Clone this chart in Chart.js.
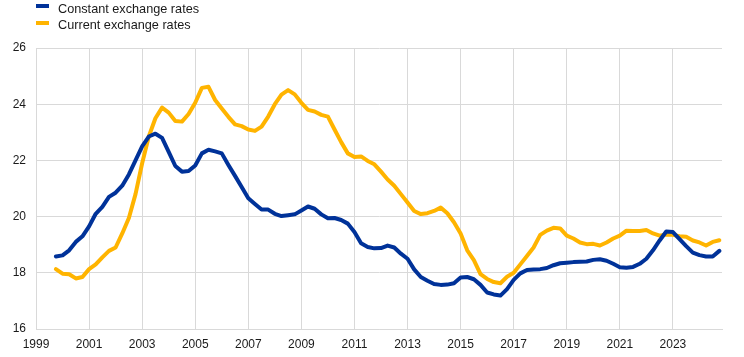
<!DOCTYPE html>
<html>
<head>
<meta charset="utf-8">
<script src="https://cdn.jsdelivr.net/npm/chart.js@4/dist/chart.umd.min.js"></script>
<style>
  html, body { margin: 0; padding: 0; background: #fff; }
  #wrap { position: relative; width: 744px; height: 357px; font-family: "Liberation Sans", Arial, sans-serif; }
  #chart { position: absolute; left: 0; top: 0; }
  .leg { position: absolute; left: 36px; font-size: 12.7px; color: #1a1a1a; line-height: 14px; }
  .leg .sw { position: absolute; left: 0; width: 13px; height: 4px; }
  .leg .tx { position: absolute; left: 22px; white-space: nowrap; }
</style>
</head>
<body>
<div id="wrap">
  <canvas id="chart" width="744" height="357"></canvas>
  <div class="leg" style="top:0px;"><span class="sw" style="top:4px;background:#003299;"></span><span class="tx" style="top:2px;">Constant exchange rates</span></div>
  <div class="leg" style="top:17px;"><span class="sw" style="top:4px;background:#FFB400;"></span><span class="tx" style="top:1px;">Current exchange rates</span></div>
</div>
<script>
// Quarterly observations, 1999 Q4 to 2024 Q4 (decimal years)
const periods = [];
for (let i = 0; i <= 100; i++) periods.push(1999.75 + i * 0.25);

const constantRates = [
  18.58, 18.62, 18.8, 19.1, 19.3, 19.65, 20.1, 20.35, 20.7, 20.85,
  21.1, 21.5, 22.0, 22.5, 22.85, 22.95, 22.8, 22.3, 21.8, 21.6,
  21.62, 21.82, 22.25, 22.38, 22.32, 22.25, 21.84, 21.45, 21.05, 20.65,
  20.45, 20.25, 20.25, 20.1, 20.02, 20.05, 20.08, 20.22, 20.36, 20.28,
  20.08, 19.94, 19.95, 19.88, 19.75, 19.45, 19.05, 18.92, 18.87, 18.88,
  18.97, 18.9, 18.68, 18.5, 18.12, 17.85, 17.72, 17.6, 17.57, 17.58,
  17.63, 17.83, 17.85, 17.77, 17.57, 17.3, 17.23, 17.19, 17.42, 17.75,
  17.98, 18.1, 18.12, 18.13, 18.17, 18.27, 18.34, 18.36, 18.38, 18.39,
  18.4, 18.46, 18.48, 18.43, 18.32, 18.2, 18.18, 18.21, 18.32, 18.5,
  18.8, 19.15, 19.47, 19.45, 19.2, 18.95, 18.72, 18.63, 18.58, 18.58,
  18.78
];

const currentRates = [
  18.13, 17.97, 17.95, 17.8, 17.85, 18.13, 18.3, 18.55, 18.78, 18.9,
  19.4, 19.95, 20.8, 21.9, 22.85, 23.5, 23.88, 23.7, 23.4, 23.38,
  23.65, 24.05, 24.58, 24.62, 24.15, 23.85, 23.55, 23.28, 23.22, 23.1,
  23.05, 23.2, 23.56, 24.0, 24.34, 24.5, 24.35, 24.05, 23.8, 23.74,
  23.62, 23.56, 23.1, 22.65, 22.25, 22.12, 22.14, 21.98, 21.86, 21.6,
  21.32, 21.1, 20.8, 20.5, 20.2, 20.09, 20.12, 20.2, 20.32, 20.12,
  19.8, 19.4, 18.8, 18.45, 17.95, 17.78, 17.67, 17.63, 17.86, 18.0,
  18.3, 18.6, 18.9, 19.35, 19.5, 19.6, 19.58, 19.32, 19.22, 19.08,
  19.02, 19.03, 18.97, 19.08, 19.22, 19.32, 19.5, 19.49, 19.49, 19.52,
  19.4, 19.32, 19.36, 19.35, 19.3, 19.28, 19.15, 19.08, 18.97, 19.1,
  19.16
];

const xTickLabels = ['1999','2001','2003','2005','2007','2009','2011','2013','2015','2017','2019','2021','2023'];
const yTickLabels = ['16','18','20','22','24','26'];

const toPts = arr => arr.map((v, i) => ({ x: periods[i], y: v }));

const gridColor = '#d9d9d9';
const tickFont = { family: '"Liberation Sans", Arial, sans-serif', size: 12 };

new Chart(document.getElementById('chart'), {
  type: 'line',
  data: {
    datasets: [
      { label: 'Constant exchange rates', data: toPts(constantRates), borderColor: '#003299', backgroundColor: '#003299', borderWidth: 4, pointRadius: 0, tension: 0, borderJoinStyle: 'round', borderCapStyle: 'round' },
      { label: 'Current exchange rates', data: toPts(currentRates), borderColor: '#FFB400', backgroundColor: '#FFB400', borderWidth: 4, pointRadius: 0, tension: 0, borderJoinStyle: 'round', borderCapStyle: 'round' }
    ]
  },
  options: {
    responsive: false,
    animation: false,
    events: [],
    layout: { padding: { top: 48, left: 0, right: 22, bottom: 0 } },
    plugins: { legend: { display: false }, tooltip: { enabled: false } },
    scales: {
      x: {
        type: 'linear',
        min: 1999,
        max: 2024.85,
        afterBuildTicks: s => { s.ticks = xTickLabels.map(t => ({ value: Number(t) })); },
        afterFit: s => { s.height = 28; },
        ticks: { color: '#1a1a1a', font: tickFont, padding: 8, maxRotation: 0, autoSkip: false, callback: v => String(v) },
        grid: { color: gridColor, lineWidth: 1, drawTicks: false },
        border: { color: gridColor, width: 1 }
      },
      y: {
        min: 16,
        max: 26,
        afterBuildTicks: s => { s.ticks = yTickLabels.map(t => ({ value: Number(t) })); },
        afterFit: s => { s.width = 36; },
        ticks: { color: '#1a1a1a', font: tickFont, padding: 10, callback: v => String(v) },
        grid: { color: gridColor, lineWidth: 1, drawTicks: false },
        border: { color: gridColor, width: 1 }
      }
    }
  }
});
</script>
</body>
</html>
